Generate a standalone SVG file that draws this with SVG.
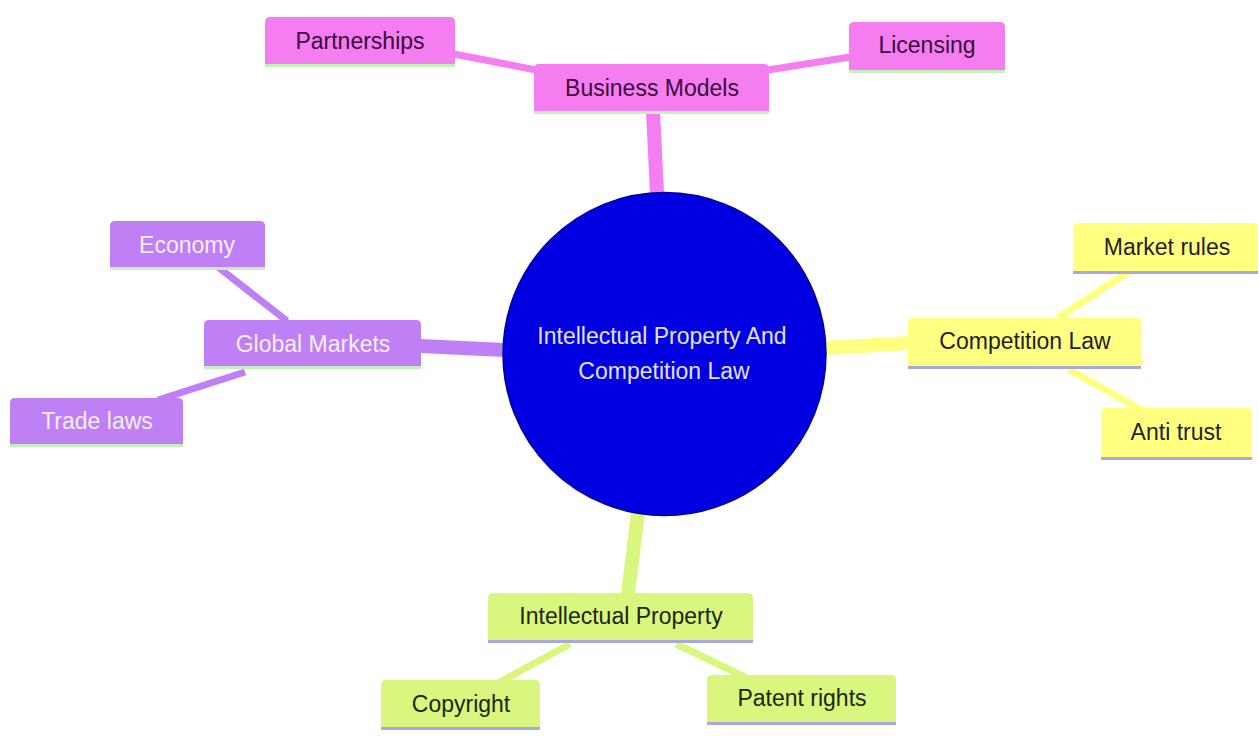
<svg xmlns="http://www.w3.org/2000/svg" width="1259" height="736" viewBox="0 0 1259 736">
<style>
text{font-family:"Liberation Sans",Arial,sans-serif;font-size:23px;text-anchor:middle}
.e{fill:none;stroke-linecap:butt}
.s0{stroke:#f47ef0}.s1{stroke:#bf80f5}.s2{stroke:#ffff80}.s3{stroke:#d9f77f}
.f0{fill:#f47ef0}.f1{fill:#bf80f5}.f2{fill:#ffff80}.f3{fill:#d9f77f}
.u01{stroke:#c4f0bc;stroke-width:3}.u23{stroke:#a9a7e0;stroke-width:3}
.t0{fill:#3a0b3a}.t1{fill:#f5eefe}.t2{fill:#1f1f1f}.t3{fill:#1c2608}
</style>
<rect width="1259" height="736" fill="#ffffff"/>
<g id="connectors">
<line class="e s0" x1="657" y1="194" x2="653" y2="111" stroke-width="14"/>
<line class="e s0" x1="536" y1="70" x2="454" y2="54" stroke-width="7"/>
<line class="e s0" x1="768" y1="70" x2="850" y2="57" stroke-width="7"/>
<line class="e s1" x1="505" y1="350" x2="420" y2="346" stroke-width="14"/>
<line class="e s1" x1="287" y1="321" x2="218" y2="267" stroke-width="7"/>
<line class="e s1" x1="245" y1="372" x2="158" y2="400" stroke-width="7"/>
<line class="e s2" x1="825" y1="348" x2="909" y2="343" stroke-width="14"/>
<line class="e s2" x1="1058" y1="318" x2="1130" y2="271" stroke-width="7"/>
<line class="e s2" x1="1068" y1="369" x2="1142" y2="410" stroke-width="7"/>
<line class="e s3" x1="638" y1="512" x2="628" y2="594" stroke-width="14"/>
<line class="e s3" x1="570" y1="644" x2="498" y2="683" stroke-width="7"/>
<line class="e s3" x1="676" y1="644" x2="745" y2="677" stroke-width="7"/>
</g>
<g id="root">
<circle cx="664.5" cy="354" r="161.5" fill="#0000e0" stroke="#00009a" stroke-width="1.5"/>
<text x="662" y="344" fill="#e2e2fa">Intellectual Property And</text>
<text x="664" y="379" fill="#e2e2fa">Competition Law</text>
</g>
<g id="business-models">
<path class="f0" d="M534,111V69Q534,64 539,64H764Q769,64 769,69V111Z"/>
<line class="u01" x1="534" y1="112.5" x2="769" y2="112.5"/>
<text class="t0" x="652" y="96">Business Models</text>
</g>
<g id="partnerships">
<path class="f0" d="M265,64V22Q265,17 270,17H450Q455,17 455,22V64Z"/>
<line class="u01" x1="265" y1="65.5" x2="455" y2="65.5"/>
<text class="t0" x="360" y="49">Partnerships</text>
</g>
<g id="licensing">
<path class="f0" d="M849,70V27Q849,22 854,22H1000Q1005,22 1005,27V70Z"/>
<line class="u01" x1="849" y1="71.5" x2="1005" y2="71.5"/>
<text class="t0" x="927" y="53">Licensing</text>
</g>
<g id="global-markets">
<path class="f1" d="M204,366V325Q204,320 209,320H416Q421,320 421,325V366Z"/>
<line class="u01" x1="204" y1="367.5" x2="421" y2="367.5"/>
<text class="t1" x="313" y="352">Global Markets</text>
</g>
<g id="economy">
<path class="f1" d="M110,267V226Q110,221 115,221H260Q265,221 265,226V267Z"/>
<line class="u01" x1="110" y1="268.5" x2="265" y2="268.5"/>
<text class="t1" x="187" y="253">Economy</text>
</g>
<g id="trade-laws">
<path class="f1" d="M10,444V403Q10,398 15,398H178Q183,398 183,403V444Z"/>
<line class="u01" x1="10" y1="445.5" x2="183" y2="445.5"/>
<text class="t1" x="97" y="429">Trade laws</text>
</g>
<g id="competition-law">
<path class="f2" d="M908,366V323Q908,318 913,318H1136Q1141,318 1141,323V366Z"/>
<line class="u23" x1="908" y1="367.5" x2="1141" y2="367.5"/>
<text class="t2" x="1025" y="349">Competition Law</text>
</g>
<g id="market-rules">
<path class="f2" d="M1073,271V228Q1073,223 1078,223H1253Q1258,223 1258,228V271Z"/>
<line class="u23" x1="1073" y1="272.5" x2="1258" y2="272.5"/>
<text class="t2" x="1167" y="255">Market rules</text>
</g>
<g id="anti-trust">
<path class="f2" d="M1101,457V413Q1101,408 1106,408H1247Q1252,408 1252,413V457Z"/>
<line class="u23" x1="1101" y1="458.5" x2="1252" y2="458.5"/>
<text class="t2" x="1176" y="440">Anti trust</text>
</g>
<g id="intellectual-property">
<path class="f3" d="M488,640V598Q488,593 493,593H748Q753,593 753,598V640Z"/>
<line class="u23" x1="488" y1="641.5" x2="753" y2="641.5"/>
<text class="t3" x="621" y="624">Intellectual Property</text>
</g>
<g id="copyright">
<path class="f3" d="M381,727V685Q381,680 386,680H535Q540,680 540,685V727Z"/>
<line class="u23" x1="381" y1="728.5" x2="540" y2="728.5"/>
<text class="t3" x="461" y="712">Copyright</text>
</g>
<g id="patent-rights">
<path class="f3" d="M707,722V680Q707,675 712,675H891Q896,675 896,680V722Z"/>
<line class="u23" x1="707" y1="723.5" x2="896" y2="723.5"/>
<text class="t3" x="802" y="706">Patent rights</text>
</g>
</svg>
